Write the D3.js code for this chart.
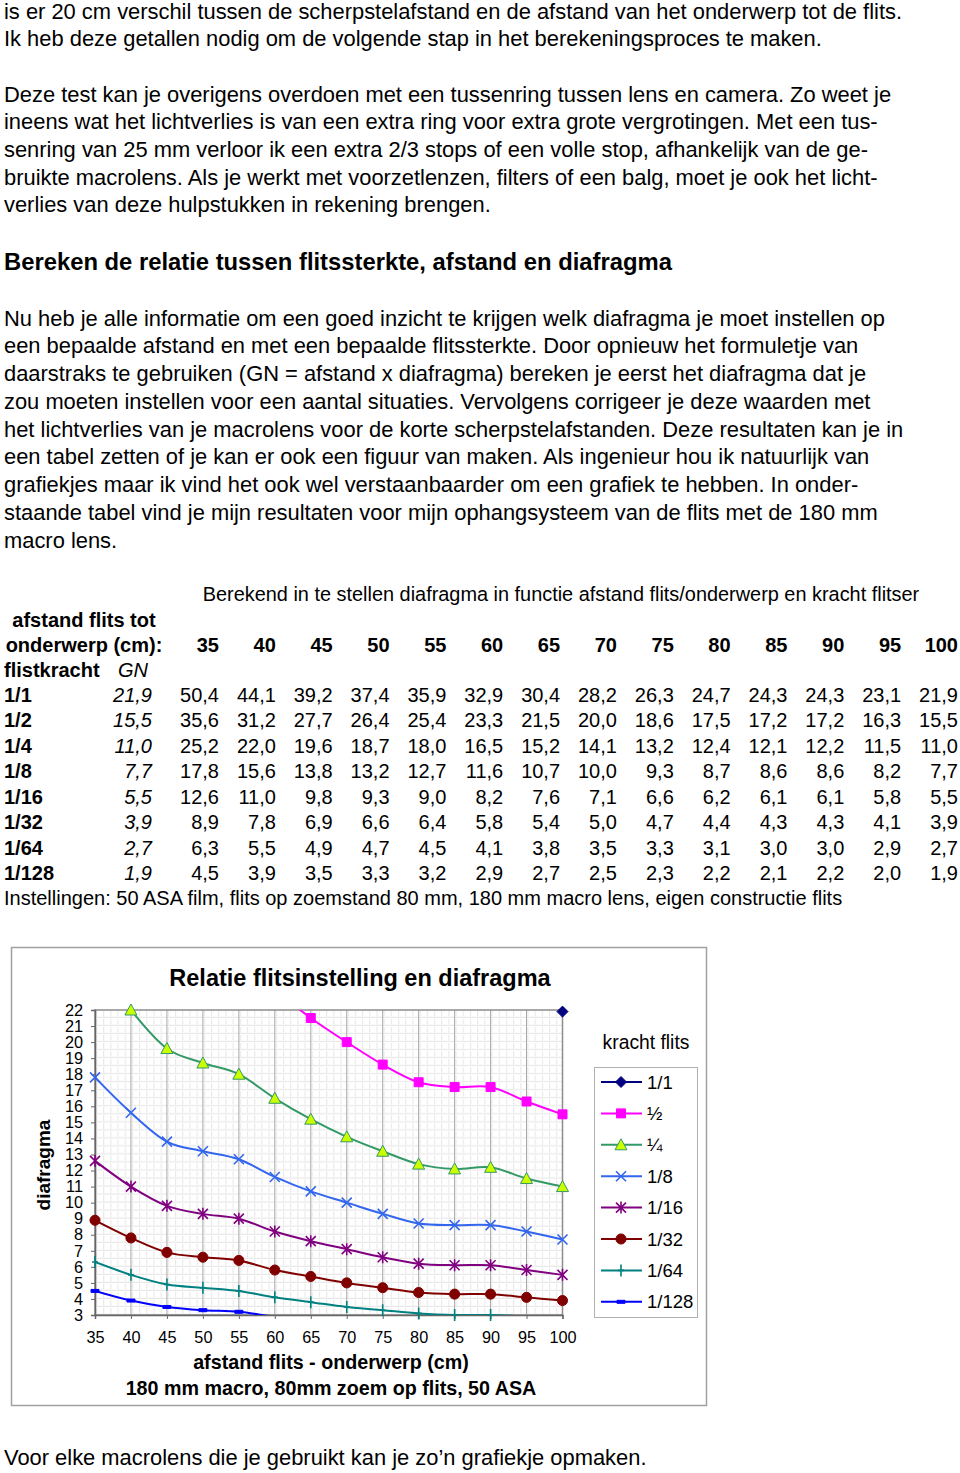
<!DOCTYPE html>
<html>
<head>
<meta charset="utf-8">
<script src="https://cdnjs.cloudflare.com/ajax/libs/d3/7.8.5/d3.min.js"></script>
<style>
  body { margin: 0; background: #fff; }
  svg { display: block; font-family: "Liberation Sans", Arial, sans-serif; }
</style>
</head>
<body>
<div id="page"></div>
<script>
// ---- data ----
var afstanden = [35, 40, 45, 50, 55, 60, 65, 70, 75, 80, 85, 90, 95, 100];
var krachten = ["1/1", "1/2", "1/4", "1/8", "1/16", "1/32", "1/64", "1/128"];
var legendLabels = ["1/1", "\u00bd", "\u00bc", "1/8", "1/16", "1/32", "1/64", "1/128"];
var gn = [21.9, 15.5, 11.0, 7.7, 5.5, 3.9, 2.7, 1.9];

var diaf_1_1   = [50.4, 44.1, 39.2, 37.4, 35.9, 32.9, 30.4, 28.2, 26.3, 24.7, 24.3, 24.3, 23.1, 21.9];
var diaf_1_2   = [35.6, 31.2, 27.7, 26.4, 25.4, 23.3, 21.5, 20.0, 18.6, 17.5, 17.2, 17.2, 16.3, 15.5];
var diaf_1_4   = [25.2, 22.0, 19.6, 18.7, 18.0, 16.5, 15.2, 14.1, 13.2, 12.4, 12.1, 12.2, 11.5, 11.0];
var diaf_1_8   = [17.8, 15.6, 13.8, 13.2, 12.7, 11.6, 10.7, 10.0, 9.3, 8.7, 8.6, 8.6, 8.2, 7.7];
var diaf_1_16  = [12.6, 11.0, 9.8, 9.3, 9.0, 8.2, 7.6, 7.1, 6.6, 6.2, 6.1, 6.1, 5.8, 5.5];
var diaf_1_32  = [8.9, 7.8, 6.9, 6.6, 6.4, 5.8, 5.4, 5.0, 4.7, 4.4, 4.3, 4.3, 4.1, 3.9];
var diaf_1_64  = [6.3, 5.5, 4.9, 4.7, 4.5, 4.1, 3.8, 3.5, 3.3, 3.1, 3.0, 3.0, 2.9, 2.7];
var diaf_1_128 = [4.5, 3.9, 3.5, 3.3, 3.2, 2.9, 2.7, 2.5, 2.3, 2.2, 2.1, 2.2, 2.0, 1.9];

var yTicks = d3.range(3, 23);

var tekst1 = [
  "is er 20 cm verschil tussen de scherpstelafstand en de afstand van het onderwerp tot de flits.",
  "Ik heb deze getallen nodig om de volgende stap in het berekeningsproces te maken.",
  "",
  "Deze test kan je overigens overdoen met een tussenring tussen lens en camera. Zo weet je",
  "ineens wat het lichtverlies is van een extra ring voor extra grote vergrotingen. Met een tus-",
  "senring van 25 mm verloor ik een extra 2/3 stops of een volle stop, afhankelijk van de ge-",
  "bruikte macrolens. Als je werkt met voorzetlenzen, filters of een balg, moet je ook het licht-",
  "verlies van deze hulpstukken in rekening brengen."
];
var kop = "Bereken de relatie tussen flitssterkte, afstand en diafragma";
var tekst2 = [
  "Nu heb je alle informatie om een goed inzicht te krijgen welk diafragma je moet instellen op",
  "een bepaalde afstand en met een bepaalde flitssterkte. Door opnieuw het formuletje van",
  "daarstraks te gebruiken (GN = afstand x diafragma) bereken je eerst het diafragma dat je",
  "zou moeten instellen voor een aantal situaties. Vervolgens corrigeer je deze waarden met",
  "het lichtverlies van je macrolens voor de korte scherpstelafstanden. Deze resultaten kan je in",
  "een tabel zetten of je kan er ook een figuur van maken. Als ingenieur hou ik natuurlijk van",
  "grafiekjes maar ik vind het ook wel verstaanbaarder om een grafiek te hebben. In onder-",
  "staande tabel vind je mijn resultaten voor mijn ophangsysteem van de flits met de 180 mm",
  "macro lens."
];
var slot = "Voor elke macrolens die je gebruikt kan je zo\u2019n grafiekje opmaken.";

var series = [
  {naam: legendLabels[0], waarden: diaf_1_1,   kleur: "#000080", vulling: "#000080", marker: "diamond"},
  {naam: legendLabels[1], waarden: diaf_1_2,   kleur: "#ff00ff", vulling: "#ff00ff", marker: "square"},
  {naam: legendLabels[2], waarden: diaf_1_4,   kleur: "#339966", vulling: "#ccff00", marker: "triangle"},
  {naam: legendLabels[3], waarden: diaf_1_8,   kleur: "#3366ee", vulling: "none",    marker: "x"},
  {naam: legendLabels[4], waarden: diaf_1_16,  kleur: "#800080", vulling: "none",    marker: "star"},
  {naam: legendLabels[5], waarden: diaf_1_32,  kleur: "#800000", vulling: "#800000", marker: "circle"},
  {naam: legendLabels[6], waarden: diaf_1_64,  kleur: "#008080", vulling: "none",    marker: "plus"},
  {naam: legendLabels[7], waarden: diaf_1_128, kleur: "#0000ff", vulling: "#0000ff", marker: "dash"}
];

// ---- page ----
var W = 960, H = 1473;
var svg = d3.select("#page").append("svg")
    .attr("width", W)
    .attr("height", H);

var komma = function(v) { return d3.format(".1f")(v).replace(".", ","); };

svg.append("g").selectAll("text")
  .data(tekst1)
  .join("text")
    .attr("x", 4)
    .attr("y", function(d, i) { return 18.5 + i * 27.7; })
    .style("font-size", "21.9px")
    .text(function(d) { return d; });

svg.append("text")
    .attr("x", 4)
    .attr("y", 270)
    .style("font-size", "23.8px")
    .style("font-weight", "bold")
    .text(kop);

svg.append("g").selectAll("text")
  .data(tekst2)
  .join("text")
    .attr("x", 4)
    .attr("y", function(d, i) { return 325.5 + i * 27.75; })
    .style("font-size", "21.9px")
    .text(function(d) { return d; });

// ---- table ----
var tabel = svg.append("g").style("font-size", "20px");
var colX = d3.scalePoint().domain(afstanden).range([219, 958]);
var rowY = d3.scalePoint().domain(krachten).range([702, 880]);

tabel.append("text")
    .attr("x", 561).attr("y", 601)
    .attr("text-anchor", "middle")
    .style("font-size", "19.9px")
    .text("Berekend in te stellen diafragma in functie afstand flits/onderwerp en kracht flitser");

tabel.append("text").attr("x", 84).attr("y", 627).attr("text-anchor", "middle")
    .style("font-weight", "bold").text("afstand flits tot");
tabel.append("text").attr("x", 84).attr("y", 652).attr("text-anchor", "middle")
    .style("font-weight", "bold").text("onderwerp (cm):");
tabel.append("text").attr("x", 4).attr("y", 677)
    .style("font-weight", "bold").text("flistkracht");
tabel.append("text").attr("x", 118).attr("y", 677)
    .style("font-style", "italic").text("GN");

tabel.append("g").selectAll("text")
  .data(afstanden)
  .join("text")
    .attr("x", function(d) { return colX(d); })
    .attr("y", 652)
    .attr("text-anchor", "end")
    .style("font-weight", "bold")
    .text(function(d) { return d; });

var rij = tabel.append("g").selectAll("g")
  .data(series)
  .join("g")
    .attr("transform", function(d, i) { return "translate(0," + rowY(krachten[i]) + ")"; });

rij.append("text")
    .attr("x", 4)
    .style("font-weight", "bold")
    .text(function(d, i) { return krachten[i]; });

rij.append("text")
    .attr("x", 152)
    .attr("text-anchor", "end")
    .style("font-style", "italic")
    .text(function(d, i) { return komma(gn[i]); });

rij.selectAll("text.v")
  .data(function(d) { return d.waarden; })
  .join("text")
    .attr("class", "v")
    .attr("x", function(d, j) { return colX(afstanden[j]); })
    .attr("text-anchor", "end")
    .text(function(d) { return komma(d); });

tabel.append("text").attr("x", 4).attr("y", 905)
    .text("Instellingen: 50 ASA film, flits op zoemstand 80 mm, 180 mm macro lens, eigen constructie flits");

// ---- chart ----
var kader = {x: 11.5, y: 947.5, w: 695, h: 458};
svg.append("rect")
    .attr("x", kader.x).attr("y", kader.y)
    .attr("width", kader.w).attr("height", kader.h)
    .attr("fill", "#fff")
    .attr("stroke", "#a0a0a0")
    .attr("stroke-width", 1.5);

var plot = {left: 95, right: 562.5, top: 1010, bottom: 1315};
var x = d3.scaleLinear().domain([35, 100]).range([plot.left, plot.right]);
var y = d3.scaleLinear().domain([3, 22]).range([plot.bottom, plot.top]);

svg.append("text")
    .attr("x", 360).attr("y", 986)
    .attr("text-anchor", "middle")
    .style("font-size", "23.5px")
    .style("font-weight", "bold")
    .text("Relatie flitsinstelling en diafragma");

var defs = svg.append("defs");
var pat = defs.append("pattern")
    .attr("id", "raster")
    .attr("patternUnits", "userSpaceOnUse")
    .attr("x", plot.left).attr("y", plot.top)
    .attr("width", (plot.right - plot.left) / 65)
    .attr("height", (plot.bottom - plot.top) / 38);
pat.append("path")
    .attr("d", "M1.5,1V6.5M0,7.5H7")
    .attr("stroke", "#e6e6e6")
    .attr("stroke-width", 1)
    .attr("fill", "none");

defs.append("clipPath").attr("id", "plotclip")
  .append("rect")
    .attr("x", plot.left).attr("y", plot.top)
    .attr("width", plot.right - plot.left)
    .attr("height", plot.bottom - plot.top);

svg.append("rect")
    .attr("x", plot.left).attr("y", plot.top)
    .attr("width", plot.right - plot.left)
    .attr("height", plot.bottom - plot.top)
    .attr("fill", "url(#raster)");

svg.append("g").selectAll("line")
  .data(afstanden.slice(1))
  .join("line")
    .attr("x1", function(d) { return x(d); })
    .attr("x2", function(d) { return x(d); })
    .attr("y1", plot.top).attr("y2", plot.bottom)
    .attr("stroke", "#a8a8a8")
    .attr("stroke-width", 1);

svg.append("rect")
    .attr("x", plot.left).attr("y", plot.top)
    .attr("width", plot.right - plot.left)
    .attr("height", plot.bottom - plot.top)
    .attr("fill", "none")
    .attr("stroke", "#8c8c8c")
    .attr("stroke-width", 1.5);

var yAxis = svg.append("g")
    .attr("transform", "translate(" + plot.left + ",0)")
    .call(d3.axisLeft(y).tickValues(yTicks).tickSize(4).tickPadding(8));
var xAxis = svg.append("g")
    .attr("transform", "translate(0," + plot.bottom + ")")
    .call(d3.axisBottom(x).tickValues(afstanden).tickSize(4).tickPadding(12));
[yAxis, xAxis].forEach(function(a) {
  a.select(".domain").attr("stroke", "#666").attr("stroke-width", 1.5);
  a.selectAll(".tick line").attr("stroke", "#666");
  a.selectAll(".tick text")
    .attr("fill", "#000")
    .style("font-size", "16.3px")
    .style("font-family", "'Liberation Sans', Arial, sans-serif");
});

svg.append("text")
    .attr("transform", "translate(50,1165) rotate(-90)")
    .attr("text-anchor", "middle")
    .style("font-size", "19px")
    .style("font-weight", "bold")
    .text("diafragma");

svg.append("text")
    .attr("x", 331).attr("y", 1369)
    .attr("text-anchor", "middle")
    .style("font-size", "19.7px")
    .style("font-weight", "bold")
    .text("afstand flits - onderwerp (cm)");
svg.append("text")
    .attr("x", 331).attr("y", 1395)
    .attr("text-anchor", "middle")
    .style("font-size", "19.7px")
    .style("font-weight", "bold")
    .text("180 mm macro, 80mm zoem op flits, 50 ASA");

function markerPad(type) {
  switch (type) {
    case "diamond": return "M0,-5.5L5.5,0L0,5.5L-5.5,0Z";
    case "square": return "M-4.5,-4.5H4.5V4.5H-4.5Z";
    case "triangle": return "M0,-6L6,5H-6Z";
    case "x": return "M-5,-5L5,5M-5,5L5,-5";
    case "star": return "M-5,-5L5,5M-5,5L5,-5M0,-6V6";
    case "circle": return d3.symbol(d3.symbolCircle, 80)();
    case "plus": return "M0,-6V6M-3,0H3";
    case "dash": return "M-4,-1.5H4V1.5H-4Z";
  }
}

var lijn = d3.line()
    .x(function(d) { return x(d[0]); })
    .y(function(d) { return y(d[1]); })
    .curve(d3.curveCardinal.tension(0));

var reeks = svg.append("g").selectAll("g")
  .data(series)
  .join("g");

reeks.append("path")
    .attr("clip-path", "url(#plotclip)")
    .attr("fill", "none")
    .attr("stroke", function(d) { return d.kleur; })
    .attr("stroke-width", 2)
    .attr("d", function(d) {
      return lijn(d.waarden.map(function(v, j) { return [afstanden[j], v]; }));
    });

reeks.selectAll("path.m")
  .data(function(d) {
    return d.waarden
      .map(function(v, j) { return {x: afstanden[j], v: v, s: d}; })
      .filter(function(p) { return p.v >= 3 && p.v <= 22; });
  })
  .join("path")
    .attr("class", "m")
    .attr("transform", function(p) { return "translate(" + x(p.x) + "," + y(p.v) + ")"; })
    .attr("d", function(p) { return markerPad(p.s.marker); })
    .attr("fill", function(p) { return p.s.vulling; })
    .attr("stroke", function(p) { return p.s.kleur; })
    .attr("stroke-width", function(p) { return p.s.vulling === "none" ? 1.6 : 1; });

// ---- legend ----
svg.append("text")
    .attr("x", 646).attr("y", 1049)
    .attr("text-anchor", "middle")
    .style("font-size", "19.3px")
    .text("kracht flits");

svg.append("rect")
    .attr("x", 594.5).attr("y", 1067.5)
    .attr("width", 103).attr("height", 250)
    .attr("fill", "#fff")
    .attr("stroke", "#b0b0b0")
    .attr("stroke-width", 1);

var leg = svg.append("g").selectAll("g")
  .data(series)
  .join("g")
    .attr("transform", function(d, i) { return "translate(0," + (1082 + i * 31.4) + ")"; });

leg.append("line")
    .attr("x1", 601).attr("x2", 642)
    .attr("stroke", function(d) { return d.kleur; })
    .attr("stroke-width", 2);
leg.append("path")
    .attr("transform", "translate(621,0)")
    .attr("d", function(d) { return markerPad(d.marker); })
    .attr("fill", function(d) { return d.vulling; })
    .attr("stroke", function(d) { return d.kleur; })
    .attr("stroke-width", function(d) { return d.vulling === "none" ? 1.6 : 1; });
leg.append("text")
    .attr("x", 647).attr("y", 6.5)
    .style("font-size", "18.5px")
    .text(function(d) { return d.naam; });

svg.append("text")
    .attr("x", 4).attr("y", 1465)
    .style("font-size", "21.9px")
    .text(slot);
</script>
</body>
</html>
